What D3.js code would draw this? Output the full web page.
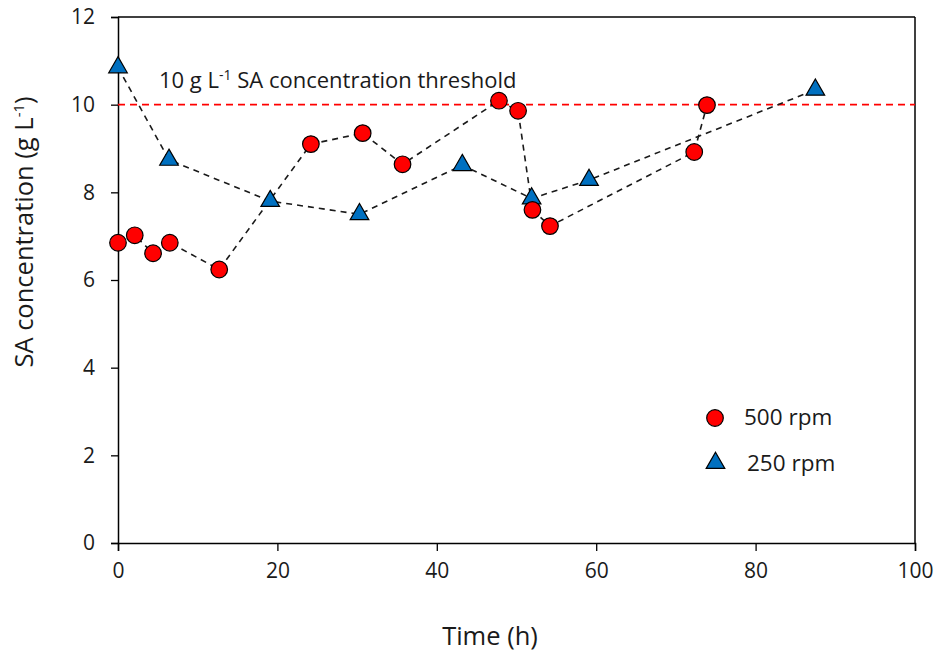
<!DOCTYPE html>
<html>
<head>
<meta charset="utf-8">
<script src="https://cdn.jsdelivr.net/npm/d3@7"></script>
<style>
  html, body { margin: 0; padding: 0; background: #fff; }
  svg text { font-family: "Open Sans", "Noto Sans", sans-serif; fill: #1a1a1a; }
</style>
</head>
<body>
<svg id="chart" width="938" height="652"></svg>
<script>
// Succinic acid concentration over time at two agitation speeds
const time500 = [0, 2.1, 4.4, 6.5, 12.7, 24.2, 30.7, 35.7, 47.8, 50.2, 52.0, 54.2, 72.3, 73.9];
const conc500 = [6.85, 7.02, 6.61, 6.85, 6.24, 9.10, 9.35, 8.64, 10.09, 9.86, 7.60, 7.23, 8.92, 9.99];
const time250 = [0, 6.4, 19.1, 30.3, 43.2, 51.9, 59.1, 87.5];
const conc250 = [10.85, 8.74, 7.80, 7.50, 8.62, 7.86, 8.28, 10.34];
const xTicks = [0, 20, 40, 60, 80, 100];
const yTicks = [0, 2, 4, 6, 8, 10, 12];
const threshold = 10;

const svg = d3.select("#chart");
const margin = { left: 118, right: 23, top: 17, bottom: 109 };
const W = 938, H = 652;

const x = d3.scaleLinear().domain([0, 100]).range([margin.left, W - margin.right]);
const y = d3.scaleLinear().domain([0, 12]).range([H - margin.bottom, margin.top]);

// frame: top and right borders
svg.append("line")
  .attr("x1", x(0)).attr("x2", x(100)).attr("y1", y(12)).attr("y2", y(12))
  .attr("stroke", "#000").attr("stroke-width", 1.5);
svg.append("line")
  .attr("x1", x(100)).attr("x2", x(100)).attr("y1", y(12)).attr("y2", y(0))
  .attr("stroke", "#000").attr("stroke-width", 1.5);

// axes
const xAxis = svg.append("g")
  .attr("transform", `translate(0,${y(0)})`)
  .call(d3.axisBottom(x).tickValues(xTicks).tickSize(8).tickPadding(12));
const yAxis = svg.append("g")
  .attr("transform", `translate(${x(0)},0)`)
  .call(d3.axisLeft(y).tickValues(yTicks).tickSize(7).tickPadding(16));

[xAxis, yAxis].forEach(g => {
  g.select(".domain").attr("stroke", "#000").attr("stroke-width", 1.5);
  g.selectAll(".tick line").attr("stroke", "#000").attr("stroke-width", 1.3);
  g.selectAll(".tick text").attr("font-size", 21).attr("fill", "#1a1a1a")
    .style("font-family", '"Open Sans", sans-serif');
});

// threshold line
svg.append("line")
  .attr("x1", x(0)).attr("x2", x(100))
  .attr("y1", y(threshold)).attr("y2", y(threshold))
  .attr("stroke", "#ff0000").attr("stroke-width", 1.6)
  .attr("stroke-dasharray", "7,5");

const thrLabel = svg.append("text")
  .attr("x", 159).attr("y", 88)
  .attr("font-size", 22);
thrLabel.append("tspan").text("10 g L");
thrLabel.append("tspan").attr("dy", -8).attr("font-size", 14).text("-1");
thrLabel.append("tspan").attr("dy", 8).text(" SA concentration threshold");

// connecting dashed lines
const line = d3.line().x(d => x(d[0])).y(d => y(d[1]));
const pts500 = time500.map((t, i) => [t, conc500[i]]);
const pts250 = time250.map((t, i) => [t, conc250[i]]);

[pts250, pts500].forEach(pts => {
  svg.append("path")
    .attr("d", line(pts))
    .attr("fill", "none")
    .attr("stroke", "#1a1a1a")
    .attr("stroke-width", 1.6)
    .attr("stroke-dasharray", "6,5");
});

// markers
const tri = d3.symbol().type(d3.symbolTriangle).size(150);
svg.append("g").selectAll("path")
  .data(pts250).join("path")
  .attr("d", tri)
  .attr("transform", d => `translate(${x(d[0])},${y(d[1])})`)
  .attr("fill", "#0070c0").attr("stroke", "#000").attr("stroke-width", 1.2);

svg.append("g").selectAll("circle")
  .data(pts500).join("circle")
  .attr("cx", d => x(d[0])).attr("cy", d => y(d[1]))
  .attr("r", 8.3)
  .attr("fill", "#ff0000").attr("stroke", "#000").attr("stroke-width", 1.2);

// legend
const legend = svg.append("g");
legend.append("circle").attr("cx", 715).attr("cy", 418).attr("r", 8.3)
  .attr("fill", "#ff0000").attr("stroke", "#000").attr("stroke-width", 1.2);
legend.append("text").attr("x", 744).attr("y", 425).attr("font-size", 22.5).text("500 rpm");
legend.append("path").attr("d", tri)
  .attr("transform", "translate(715.5,463)")
  .attr("fill", "#0070c0").attr("stroke", "#000").attr("stroke-width", 1.2);
legend.append("text").attr("x", 747).attr("y", 471).attr("font-size", 22.5).text("250 rpm");

// axis titles
svg.append("text")
  .attr("x", 490).attr("y", 645)
  .attr("text-anchor", "middle").attr("font-size", 25.5)
  .text("Time (h)");

const yTitle = svg.append("text")
  .attr("transform", "translate(33,232) rotate(-90)")
  .attr("text-anchor", "middle").attr("font-size", 25.5);
yTitle.append("tspan").text("SA concentration (g L");
yTitle.append("tspan").attr("dy", -9).attr("font-size", 15).text("-1");
yTitle.append("tspan").attr("dy", 9).text(")");
</script>
</body>
</html>
